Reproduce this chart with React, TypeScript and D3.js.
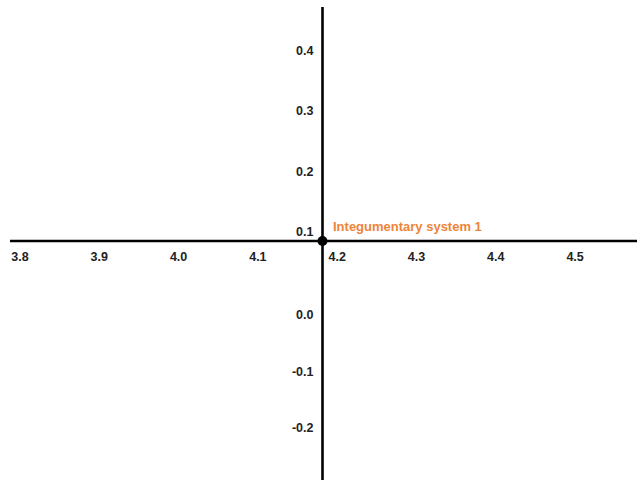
import React from "react";
import * as d3 from "d3";

const xTicks = [3.8, 3.9, 4.0, 4.1, 4.2, 4.3, 4.4, 4.5];
const yTicks = [0.4, 0.3, 0.2, 0.1, 0.0, -0.1, -0.2];
const pointLabels = ["Integumentary system 1"];
const pointX = [4.2];
const pointY = [0.1];

const W = 637;
const H = 480;

export default function App() {
  const x = d3.scaleLinear().domain([3.8, 4.5]).range([5.3, 560.4]);
  const y = d3.scaleLinear().domain([-0.2, 0.0, 0.1, 0.4]).range([437, 324, 241, 60]);
  const fmt = (v: number) => d3.format(".1f")(Math.abs(v) < 1e-9 ? 0 : v).replace("\u2212", "-");
  const ax = x(pointX[0]);
  const ay = y(pointY[0]);
  const font = "'Liberation Sans', Arial, sans-serif";
  return (
    <svg width={W} height={H} style={{ position: "absolute", left: 0, top: 0, display: "block", background: "#fff" }}>
      <line x1={10} x2={W} y1={ay} y2={ay} stroke="#000" strokeWidth={2.6} />
      <line x1={ax} x2={ax} y1={7} y2={H} stroke="#000" strokeWidth={2.6} />
      {xTicks.map((t) => (
        <text key={"x" + t} x={x(t) + 6} y={261} fontFamily={font} fontWeight="bold" fontSize={12.5} fill="#222">
          {fmt(t)}
        </text>
      ))}
      {yTicks.map((t) => (
        <text key={"y" + t} x={313.5} y={y(t) - 5} textAnchor="end" fontFamily={font} fontWeight="bold" fontSize={12.5} fill="#222">
          {fmt(t)}
        </text>
      ))}
      {pointX.map((px, i) => (
        <g key={"p" + i}>
          <circle cx={x(px)} cy={y(pointY[i])} r={5} fill="#000" />
          <text x={x(px) + 10.5} y={y(pointY[i]) - 10.5} fontFamily={font} fontWeight="bold" fontSize={13} fill="#EE8438">
            {pointLabels[i]}
          </text>
        </g>
      ))}
    </svg>
  );
}
